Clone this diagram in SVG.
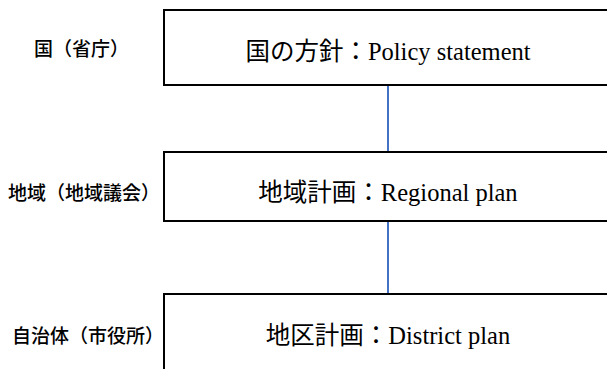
<svg xmlns="http://www.w3.org/2000/svg" width="607" height="369" viewBox="0 0 607 369">
<style>
.box{fill:#ffffff;stroke:#000000;stroke-width:2}
.conn{stroke:#4472c4;stroke-width:2;fill:none}
.lbl{font-family:"Noto Sans CJK JP","Noto Sans",sans-serif;font-size:19px;font-weight:500;fill:#000}
.txt{font-family:"Liberation Serif","Noto Sans CJK JP",serif;font-size:24.5px;fill:#000;text-anchor:middle}
</style>
<rect width="607" height="369" fill="#ffffff"/>
<g id="connectors">
<line class="conn" x1="388" y1="85" x2="388" y2="152"/>
<line class="conn" x1="388" y1="221" x2="388" y2="294"/>
</g>
<g id="label-kuni"><text class="lbl" x="34" y="56">国（省庁）</text></g>
<g id="label-chiiki"><text class="lbl" x="8" y="200">地域（地域議会）</text></g>
<g id="label-jichitai"><text class="lbl" x="12" y="343">自治体（市役所）</text></g>
<g id="node-policy">
<rect class="box" x="164" y="10" width="448" height="75"/>
<text class="txt" x="388" y="60">国の方針：Policy statement</text>
</g>
<g id="node-regional">
<rect class="box" x="164" y="152" width="448" height="69"/>
<text class="txt" x="388" y="201">地域計画：Regional plan</text>
</g>
<g id="node-district">
<rect class="box" x="164" y="294" width="448" height="80"/>
<text class="txt" x="388" y="344">地区計画：District plan</text>
</g>
</svg>
